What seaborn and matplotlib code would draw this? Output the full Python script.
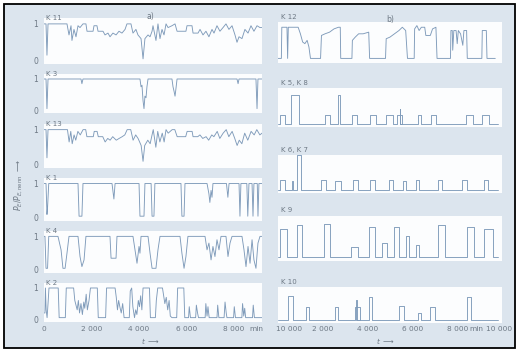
import numpy as np
import pandas as pd
import matplotlib
matplotlib.use("Agg")
import matplotlib.pyplot as plt
import seaborn as sns
from matplotlib.patches import Rectangle
from matplotlib.transforms import blended_transform_factory

sns.set_style("white")
plt.rcParams['font.family'] = ['DejaVu Sans']

BG = '#dce5ee'
PANEL = '#fcfdfe'
LINE = '#7f9bba'
TXT = '#6d7884'

### left column (a): (t in min, P/Pnenn)
k11 = [(0, 1), (85, 1), (125, 0.15), (170, 1), (970, 1), (1055, 0.7), (1140, 0.95), (1180, 0.55),
       (1265, 0.85), (1350, 0.65), (1435, 0.95), (1520, 0.9), (1645, 1), (1770, 1), (1815, 0.8),
       (2070, 0.8), (2110, 0.95), (2235, 0.95), (2280, 0.8), (2490, 0.8), (2575, 0.7), (2700, 0.75),
       (2785, 0.65), (2910, 0.75), (3040, 0.7), (3165, 0.8), (3290, 0.75), (3420, 0.85), (3500, 1),
       (3670, 1), (3755, 0.75), (3880, 0.85), (3965, 0.7), (4095, 0.6), (4180, 0.05), (4260, 0.6),
       (4390, 0.7), (4475, 0.65), (4560, 0.8), (4600, 0.95), (4725, 0.55), (4810, 1), (4895, 0.6),
       (4980, 0.85), (5065, 0.7), (5150, 1), (5235, 0.9), (5400, 0.95), (5530, 1), (5615, 0.8),
       (5990, 0.8), (6035, 0.95), (6245, 0.95), (6290, 0.75), (6500, 0.75), (6585, 0.85), (6710, 0.7),
       (6835, 0.8), (6960, 0.65), (7090, 0.85), (7175, 0.75), (7300, 0.95), (7425, 0.8), (7555, 0.9),
       (7680, 1), (7805, 0.85), (7935, 0.95), (8060, 0.7), (8145, 0.5), (8230, 0.65), (8355, 0.6),
       (8480, 0.85), (8610, 0.75), (8735, 0.95), (8860, 0.8), (8990, 0.95), (9115, 0.9), (9200, 0.9)]

k3 = [(0, 1), (85, 1), (125, 0.05), (170, 1), (1560, 1), (1600, 0.85), (1645, 1), (4050, 1),
      (4095, 0.75), (4135, 0.8), (4180, 0.3), (4220, 0.05), (4260, 0.45), (4305, 0.4), (4345, 0.75),
      (4390, 1), (5400, 1), (5445, 0.75), (5490, 0.6), (5530, 0.45), (5570, 0.7), (5615, 1),
      (8145, 1), (8190, 0.85), (8230, 1), (8945, 1), (8990, 0.05), (9030, 1), (9200, 1)]

k13 = [(0, 1), (85, 1), (125, 0.2), (170, 1), (990, 1), (1060, 0.65), (1130, 0.95), (1190, 0.6),
       (1270, 0.85), (1340, 0.7), (1430, 0.95), (1530, 0.85), (1650, 1), (1760, 1), (1810, 0.8),
       (2080, 0.8), (2120, 0.95), (2240, 0.95), (2290, 0.8), (2480, 0.8), (2580, 0.65), (2690, 0.75),
       (2790, 0.7), (2900, 0.8), (3050, 0.7), (3170, 0.75), (3300, 0.8), (3410, 0.85), (3510, 1),
       (3660, 1), (3760, 0.7), (3870, 0.85), (3970, 0.75), (4100, 0.55), (4180, 0.1), (4250, 0.55),
       (4380, 0.7), (4480, 0.6), (4560, 0.85), (4610, 1), (4720, 0.5), (4800, 0.95), (4890, 0.65),
       (4990, 0.9), (5070, 0.65), (5150, 1), (5240, 0.9), (5410, 1), (5520, 1), (5620, 0.8),
       (5980, 0.8), (6040, 0.95), (6250, 0.95), (6290, 0.8), (6490, 0.8), (6580, 0.85), (6700, 0.75),
       (6840, 0.8), (6950, 0.7), (7080, 0.85), (7170, 0.8), (7310, 0.95), (7420, 0.75), (7560, 0.9),
       (7690, 1), (7800, 0.8), (7940, 0.95), (8050, 0.75), (8150, 0.55), (8240, 0.7), (8350, 0.6),
       (8470, 0.9), (8600, 0.7), (8740, 0.95), (8870, 0.85), (8980, 1), (9110, 0.85), (9200, 0.9)]

k1 = [(0, 1), (85, 1), (125, 0.1), (150, 0.3), (200, 1), (1435, 1), (1480, 0.05), (1600, 0.05),
      (1645, 1), (2870, 1), (2950, 0.55), (3000, 1), (4010, 1), (4050, 0.05), (4220, 0.05),
      (4260, 1), (4520, 1), (4560, 0.05), (4640, 0.05), (4680, 1), (5780, 1), (5820, 0.05),
      (5910, 0.05), (5950, 1), (6880, 1), (6960, 0.7), (7000, 0.45), (7050, 0.8), (7090, 0.6),
      (7130, 1), (7700, 1), (7760, 0.6), (7810, 1), (8230, 1), (8270, 0.05), (8310, 1),
      (8560, 1), (8600, 0.05), (8650, 1), (8780, 1), (8820, 0.05), (8860, 1), (9000, 1),
      (9030, 0.05), (9070, 1), (9200, 1)]

k4 = [(0, 1), (40, 1), (85, 0.05), (150, 0.05), (200, 1), (590, 1), (720, 0.6), (800, 0.05),
      (890, 0.05), (970, 0.5), (1055, 1), (1435, 1), (1520, 0.4), (1600, 0.1), (1690, 0.3),
      (1770, 1), (2785, 1), (2830, 0.35), (3040, 0.35), (3080, 1), (3755, 1), (3840, 0.6),
      (3925, 0.2), (4010, 0.7), (4050, 0.5), (4095, 1), (4390, 1), (4475, 0.5), (4560, 0.05),
      (4725, 0.05), (4810, 0.6), (4895, 1), (5740, 1), (5820, 0.5), (5910, 0.05), (5990, 0.4),
      (6075, 1), (6795, 1), (6880, 0.6), (6960, 0.8), (7050, 0.3), (7130, 0.7), (7215, 0.4),
      (7300, 0.9), (7385, 0.6), (7470, 1), (7680, 1), (7765, 0.4), (7850, 0.8), (7935, 1),
      (8355, 1), (8440, 0.6), (8525, 0.1), (8610, 0.7), (8695, 0.2), (8780, 0.9), (8860, 0.3),
      (8945, 0.05), (9030, 0.8), (9115, 1), (9200, 1)]

k2 = [(0, 0.2), (40, 0.2), (60, 1), (90, 0.3), (130, 0.05), (170, 0.5), (210, 1), (600, 1),
      (640, 0.05), (900, 0.05), (940, 1), (1250, 1), (1300, 0.6), (1400, 0.3), (1450, 0.6),
      (1500, 0.2), (1560, 0.5), (1620, 0.15), (1680, 0.55), (1720, 0.35), (1780, 0.8), (1830, 0.3),
      (1900, 0.6), (1960, 1), (2250, 1), (2290, 0.05), (2600, 0.05), (2640, 1), (3000, 1),
      (3050, 0.7), (3100, 0.3), (3150, 0.6), (3200, 0.4), (3260, 0.2), (3320, 0.5), (3380, 0.05),
      (3600, 0.05), (3640, 0.9), (3700, 1), (3750, 0.4), (3820, 0.05), (3870, 0.3), (3920, 0.15),
      (3980, 0.6), (4030, 0.4), (4080, 0.75), (4130, 0.3), (4180, 1), (4450, 1), (4490, 0.05),
      (4700, 0.05), (4740, 0.6), (4800, 1), (5000, 1), (5040, 0.8), (5100, 0.5), (5160, 0.7),
      (5220, 0.3), (5280, 0.6), (5330, 0.1), (5400, 0.05), (5600, 0.05), (5640, 1), (5900, 1),
      (5940, 0.05), (6100, 0.05), (6130, 0.4), (6180, 0.05), (6400, 0.05), (6430, 0.45),
      (6480, 0.2), (6520, 0.05), (6800, 0.05), (6830, 0.5), (6880, 0.1), (6920, 0.4), (6970, 0.05),
      (7300, 0.05), (7330, 0.45), (7380, 0.05), (7600, 0.05), (7640, 0.55), (7690, 0.2),
      (7720, 0.05), (8000, 0.05), (8030, 0.4), (8080, 0.05), (8350, 0.05), (8380, 0.5),
      (8430, 0.1), (8470, 0.35), (8510, 0.05), (8800, 0.05), (8830, 0.45), (8880, 0.05), (9200, 0.05)]

### right column (b)
k12 = [(0, 0.05), (150, 0.05), (170, 1), (400, 1), (430, 0.05), (460, 1), (900, 1), (1000, 0.8),
       (1100, 0.55), (1200, 0.5), (1300, 0.6), (1380, 0.4), (1450, 0.05), (1900, 0.05), (1940, 0.75),
       (2100, 0.8), (2300, 0.85), (2500, 0.95), (2700, 1), (2780, 1), (2800, 0.05), (3300, 0.05),
       (3320, 0.6), (3450, 0.7), (3600, 0.8), (3800, 0.8), (4050, 0.85), (4090, 0.05), (4800, 0.05),
       (4830, 0.65), (5000, 0.7), (5200, 0.8), (5400, 0.9), (5550, 1), (5700, 0.9), (5780, 0.05),
       (6080, 0.05), (6100, 0.95), (6200, 1.05), (6300, 0.9), (6400, 1), (6550, 1), (6600, 0.75),
       (6800, 0.75), (6900, 0.95), (7050, 1), (7100, 0.05), (7700, 0.05), (7720, 0.9), (7780, 0.9),
       (7800, 0.3), (7850, 0.9), (7950, 0.9), (8000, 0.5), (8050, 0.9), (8150, 0.8), (8250, 0.45),
       (8300, 0.9), (8420, 0.9), (8450, 0.05), (9100, 0.05), (9120, 0.9), (9300, 0.9), (9330, 0.05),
       (9700, 0.05)]

# pulses: (start, end, height)
k5_k8 = [(85, 300, 0.3), (600, 950, 0.95), (2100, 2320, 0.3), (2700, 2780, 0.95), (3300, 3530, 0.3),
         (4090, 4390, 0.3), (4820, 5120, 0.3), (5330, 5550, 0.3), (5440, 5460, 0.5), (6240, 6400, 0.3),
         (6840, 7050, 0.3), (8390, 8690, 0.3), (9120, 9420, 0.3)]
k6_k7 = [(85, 300, 0.35), (640, 670, 0.3), (865, 1040, 1.15), (1905, 2165, 0.35), (2555, 2815, 0.3),
         (3335, 3550, 0.35), (4115, 4330, 0.35), (4935, 5150, 0.35), (5585, 5715, 0.3),
         (6150, 6280, 0.35), (7145, 7320, 0.35), (8225, 8445, 0.35), (9180, 9395, 0.35)]
k9 = [(85, 390, 0.8), (865, 1080, 0.9), (2035, 2340, 0.95), (3250, 3550, 0.3), (4070, 4330, 0.85),
      (4630, 4850, 0.4), (5200, 5410, 0.85), (5715, 5845, 0.6), (6150, 6280, 0.35), (7145, 7450, 0.9),
      (8445, 8750, 0.85), (9180, 9610, 0.8)]
k10 = [(430, 650, 0.85), (1255, 1385, 0.45), (2555, 2685, 0.45), (3420, 3640, 0.45), (3500, 3530, 0.7),
       (4070, 4200, 0.8), (5410, 5630, 0.5), (6235, 6365, 0.25), (6800, 7015, 0.45), (8445, 8615, 0.8)]

left_labels = ['K 11', 'K 3', 'K 13', 'K 1', 'K 4', 'K 2']
right_labels = ['K 12', 'K 5, K 8', 'K 6, K 7', 'K 9', 'K 10']
tick_vals = [0, 2000, 4000, 6000, 8000, 10000]
tick_text = ['0', '2 000', '4 000', '6 000', '8 000', '10 000']


def pulses_to_points(pulses, base=0.02, t_end=9800):
    pts = [(0, base)]
    for a, b, h in sorted(pulses):
        pts += [(a, base), (a, h), (b, h), (b, base)]
    pts.append((t_end, base))
    return pts


W, H = 519, 353
fig = plt.figure(figsize=(W / 100, H / 100), dpi=100)
fig.patch.set_facecolor('white')
fig.add_artist(Rectangle((4 / W, 1 - 348 / H), 511 / W, 344 / H, transform=fig.transFigure,
                         facecolor=BG, edgecolor='black', lw=1.3, zorder=-10))


def panel(x0, x1, top, bottom):
    ax = fig.add_axes([x0 / W, 1 - bottom / H, (x1 - x0) / W, (bottom - top) / H])
    ax.set_facecolor(PANEL)
    for s in ax.spines.values():
        s.set_visible(False)
    return ax


def draw(ax, pts, xmax):
    df = pd.DataFrame(pts, columns=['t', 'p'])
    sns.lineplot(data=df, x='t', y='p', ax=ax, estimator=None, sort=False,
                 color=LINE, lw=0.65)
    ax.set_xlim(0, xmax)
    ax.set_ylim(-0.09, 1.16)
    ax.set_xticks([])
    ax.set_xlabel('')
    ax.set_ylabel('')


left_rows = [(18, 64), (74, 113), (124, 168), (178, 221), (231, 273), (283, 322)]
left_data = [k11, k3, k13, k1, k4, k2]
left_axes = []
for (top, bot), data, lab in zip(left_rows, left_data, left_labels):
    ax = panel(44, 262, top, bot)
    draw(ax, data, 9200)
    ax.set_yticks([0, 1])
    ax.set_yticklabels(['0', '1'])
    ax.tick_params(axis='y', length=0, pad=4, labelsize=5.5, labelcolor=TXT)
    ax.text(0.01, 1.0, lab, transform=ax.transAxes, fontsize=5, color=TXT, va='center', ha='left')
    left_axes.append(ax)

right_rows = [(22, 63), (88, 127), (155, 193), (216, 261), (287, 323)]
right_data = [k12, pulses_to_points(k5_k8), pulses_to_points(k6_k7),
              pulses_to_points(k9), pulses_to_points(k10)]
right_axes = []
for (top, bot), data, lab in zip(right_rows, right_data, right_labels):
    ax = panel(278, 502, top, bot)
    draw(ax, data, 10000)
    ax.set_yticks([])
    ax.text(0.012, 1.06, lab, transform=ax.transAxes, fontsize=5, color=TXT, va='bottom', ha='left')
    right_axes.append(ax)

left_axes[0].text(0.49, 1.04, 'a)', transform=left_axes[0].transAxes, fontsize=5.5, color=TXT,
                  va='center', ha='center')
right_axes[0].text(0.5, 1.06, 'b)', transform=right_axes[0].transAxes, fontsize=5.5, color=TXT,
                   va='center', ha='center')

# time axis labels (last tick placed by hand where the column edge leaves room)
tick_y = 1 - 329 / H
for ax, skip_zero, last_x, min_x in [(left_axes[-1], False, 10350, 8950),
                                      (right_axes[-1], True, 9880, 8850)]:
    tr = blended_transform_factory(ax.transData, fig.transFigure)
    for v, s in zip(tick_vals, tick_text):
        if skip_zero and v == 0:
            continue
        x = last_x if v == 10000 else v
        ax.text(x, tick_y, s, transform=tr, fontsize=5.3, color=TXT, ha='center', va='center', clip_on=False)
    ax.text(min_x, tick_y, 'min', transform=tr, fontsize=5.3, color=TXT, ha='center', va='center', clip_on=False)

fig.text(150 / W, 1 - 341 / H, r'$t$ $\longrightarrow$', fontsize=5.3, color=TXT, ha='center', va='center')
fig.text(385 / W, 1 - 341 / H, r'$t$ $\longrightarrow$', fontsize=5.3, color=TXT, ha='center', va='center')
fig.text(19 / W, 1 - 185 / H, r'$P_E/P_{E,\mathrm{nenn}}$ $\longrightarrow$', fontsize=5.5, color=TXT,
         rotation=90, ha='center', va='center')

plt.savefig('out.png', dpi=100, facecolor=fig.get_facecolor())
